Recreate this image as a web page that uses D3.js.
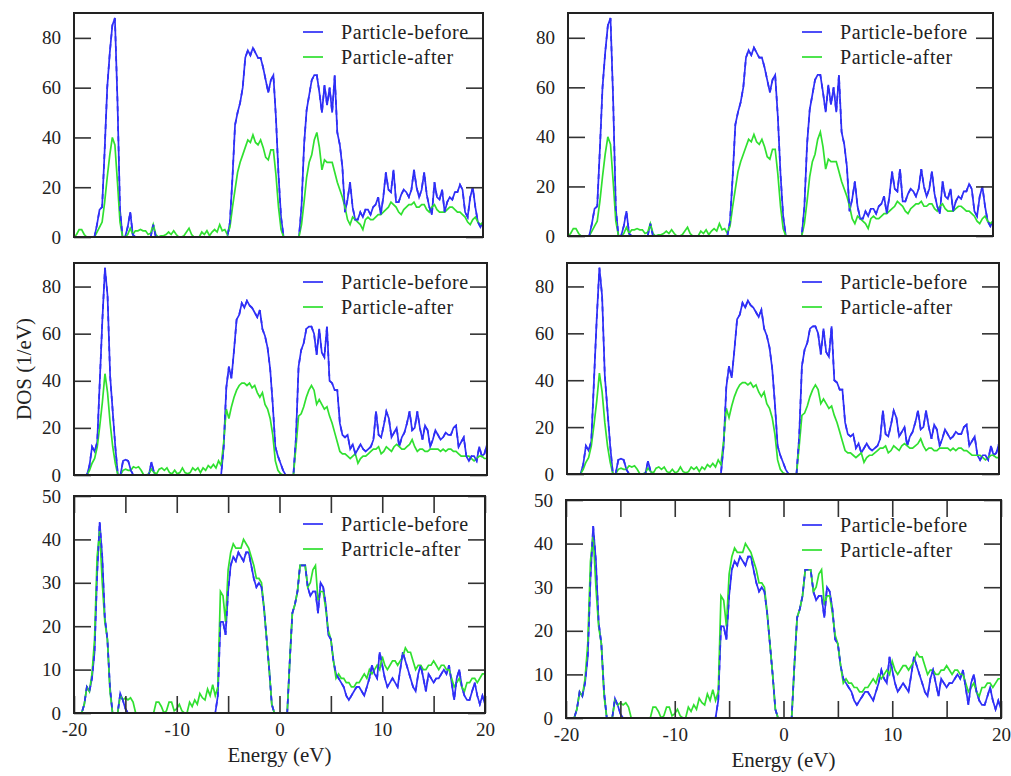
<!DOCTYPE html>
<html>
<head>
<meta charset="utf-8">
<script src="https://cdn.jsdelivr.net/npm/d3@7/dist/d3.min.js"></script>
<style>
  body { margin: 0; background: #fff; }
  svg { display: block; }
  text { font-family: "Liberation Serif", "Times New Roman", serif; fill: #222; }
</style>
</head>
<body>
<svg id="chart" width="1011" height="776"></svg>
<script>
// energy grid (eV), shared by every curve
const energy = [
  -20,-19.75,-19.5,-19.25, -19,-18.75,-18.5,-18.25, -18,-17.75,-17.5,-17.25, -17,-16.75,-16.5,-16.25,
  -16,-15.75,-15.5,-15.25, -15,-14.75,-14.5,-14.25, -14,-13.75,-13.5,-13.25, -13,-12.75,-12.5,-12.25,
  -12,-11.75,-11.5,-11.25, -11,-10.75,-10.5,-10.25, -10,-9.75,-9.5,-9.25, -9,-8.75,-8.5,-8.25,
  -8,-7.75,-7.5,-7.25, -7,-6.75,-6.5,-6.25, -6,-5.75,-5.5,-5.25, -5,-4.75,-4.5,-4.25,
  -4,-3.75,-3.5,-3.25, -3,-2.75,-2.5,-2.25, -2,-1.75,-1.5,-1.25, -1,-0.75,-0.5,-0.25,
  0,0.25,0.5,0.75, 1,1.25,1.5,1.75, 2,2.25,2.5,2.75, 3,3.25,3.5,3.75,
  4,4.25,4.5,4.75, 5,5.25,5.5,5.75, 6,6.25,6.5,6.75, 7,7.25,7.5,7.75,
  8,8.25,8.5,8.75, 9,9.25,9.5,9.75, 10,10.25,10.5,10.75, 11,11.25,11.5,11.75,
  12,12.25,12.5,12.75, 13,13.25,13.5,13.75, 14,14.25,14.5,14.75, 15,15.25,15.5,15.75,
  16,16.25,16.5,16.75, 17,17.25,17.5,17.75, 18,18.25,18.5,18.75, 19,19.25,19.5,19.75,
  20
];

// row 1 (top pair of panels)
const before1 = [
  0,0,0,0, 0,0,0,0, 0,5,11,12, 35,60,74,85,
  88,55,11,0, 0,4,10,1, 0,0,0,0, 0,0,0,5,
  0,0,0,0, 0,0,0,0, 0,0,0,0, 0,0,0,0,
  0,0,0,0, 0,0,0,0, 0,0,0,0, 0,6,24,45,
  50,54,60,72, 75,73,76,74, 72,72,68,63, 58,63,65,48,
  25,8,0,0, 0,0,0,0, 0,12,37,51, 57,63,65,65,
  58,50,61,53, 60,50,65,42, 37,28,10,15, 22,12,7,7,
  10,8,11,11, 9,12,13,16, 9,16,26,19, 18,27,14,14,
  17,19,18,16, 19,27,20,16, 19,26,17,12, 9,22,16,15,
  19,10,14,16, 15,18,18,21, 19,10,8,16, 20,12,6,4,
  6
];
const after1 = [
  0,1,3,3, 1,0,0,0, 0,2,4,6, 14,24,33,40,
  37,22,6,0, 0,1,3.5,1, 2.5,2.5,3,2.5, 2.5,1,1.5,5,
  1,0,0.5,0.5, 1,2,1,2.5, 1,0,0,0.5, 2,3.5,1,0,
  0,0,2,1, 2.5,0.5,2,3, 2,5,2.5,3, 1,4,12,19,
  26,30,33,36, 39,38,41,38, 37,39,36,32, 31,35,35,25,
  12,3,0,0, 0,0,0,0, 0,5,14,24, 30,33,39,42,
  36,27,31,30, 30,30,26,22, 19,16,12,7, 5,8,7,6,
  5,3,7,8, 7,7,8,9, 9,10,11,12, 14,13,12,10,
  9,11,12,13, 13,14,12,12, 13,13,11,10, 12,13,11,10,
  10,10,11,12, 12,11,10,10, 9,8,6,5, 7,8,6,5,
  6
];

// row 2 (middle pair)
const before2 = [
  0,0,0,0, 0,0,4,12, 10,14,40,66, 88,76,42,27,
  12,0,0,6, 6.5,6,2,0, 0,0,0,0, 0,0,5.5,1,
  0,0,0,0, 0,0,0,0, 0,0,0,0, 0,0,0,0,
  0,0,0,0, 0,0,0,0, 0,0,12,37, 46,41,53,66,
  68,73,71,74, 72,71,69,67, 70,62,59,54, 45,30,12,8,
  5,2,0,0, 0,0,16,46, 53,56,62,63, 63,60,51,62,
  52,50,63,40, 39,36,36,22, 17,16,17,11, 13,9,11,13,
  11,10,11,12, 15,27,17,16, 21,27,24,16, 18,20,12,16,
  18,22,27,19, 20,27,20,15, 21,19,12,15, 19,17,15,16,
  18,17,17,20, 21,12,14,16, 8,6,8,8, 6,12,8,9,
  13
];
const after2 = [
  0,0,0,0, 0,0,2,5, 7,12,21,31, 43,35,22,12,
  5,0,0,2, 2.5,2,2,3.5, 3,3.5,2,0, 0,0.5,2.5,1,
  0.5,2.5,3,2, 3,1,0.5,2, 0.5,1,3,1, 0.5,1,3,2,
  3,1,3,2, 4,3,4.5,3, 6,4,14,28, 24,29,33,36,
  38,39,39,38, 39,37,38,35, 33,35,30,28, 24,17,6,2,
  0.5,0,0,0, 0,0,12,25, 26,29,33,36, 38,36,30,32,
  30,28,29,25, 22,18,14,10, 9,9,8,7, 8,9,5,7,
  8,8,9,10, 11,11,12,9, 10,12,11,10, 12,13,12,11,
  11,12,13,15, 12,10,11,11, 10,10,11,11, 11,11,10,11,
  10,11,11,10, 10,9,8,8, 8,8,7,6, 7,8,8,7,
  7
];

// row 3 (bottom pair)
const before3 = [
  0,0,0,0, 2,6,5,8, 14,32,44,36, 22,17,6,0,
  0,0,4.5,3, 1,0,0,0, 0,0,0,0, 0,0,0,0,
  0,0,0,0, 0,0,0,0, 0,0,0,0, 0,0,0,0,
  0,0,0,0, 0,0,0,0, 4,21,21,18, 28,34,36,35,
  37,36,35,37, 37,34,31,29, 30,29,24,17, 10,2,0,0,
  0,0,0,0, 12,23,25,28, 34,34,34,29, 27,28,28,23,
  30,29,25,18, 17,12,9,8, 7,6,4,3, 4,5,6,6,
  5,4,6,8, 11,9,8,14, 11,8,6,7, 8,7,6,10,
  14,12,10,8, 6,5,9,11, 8,5,9,8, 7,8,8,9,
  10,9,11,7, 3,8,10,6, 4,3,3,5, 7,4,2,4,
  2
];
const after3 = [
  0,0,0,0, 2,6,5,9, 17,36,42,30, 21,17,5,0,
  0,0,4,3, 3.5,3,3.5,2.5, 0,0,0,0, 0,0,0,0,
  2.5,2.5,1.5,0, 0.5,2.5,2.5,0.5, 1,2,0.5,0, 0,2.5,1.5,3,
  2,4.5,3.5,3, 5.5,4,6.5,4, 6,28,27,21, 33,37,39,38,
  38,38,40,39, 38,36,34,31, 31,30,24,17, 10,2,0,0,
  0,0,0,0, 12,23,25,28, 34,34,34,29, 30,33,34,26,
  28,28,24,19, 17,12,8,9, 8,8,7,7, 6,6,7,7,
  8,9,8,10, 9,10,11,10, 13,11,10,11, 12,12,11,12,
  13,15,14,14, 12,10,11,11, 10,10,11,11, 12,11,10,11,
  11,10,10,8, 6,7,8,6, 5,7,7,8, 8,7,8,9,
  9
];

const yTicks90 = [0, 20, 40, 60, 80];
const yTicks50 = [0, 10, 20, 30, 40, 50];
const xTicks = [-20, -15, -10, -5, 0, 5, 10, 15, 20];
const xLabelled = [-20, -10, 0, 10, 20];
const legendNames = ["Particle-before", "Particle-after"];
const legendNamesBL = ["Particle-before", "Partricle-after"];

const blue = "#2f2ff6", green = "#30e030";

const panels = [
  { x0: 74,  x1: 483,  y0: 13,  y1: 237, yMax: 90, yt: yTicks90, b: before1, a: after1, names: legendNames, lx: 303, ly: 19 },
  { x0: 568, x1: 993,  y0: 13,  y1: 236, yMax: 90, yt: yTicks90, b: before1, a: after1, names: legendNames, lx: 802, ly: 19 },
  { x0: 74,  x1: 487,  y0: 263, y1: 475, yMax: 90, yt: yTicks90, b: before2, a: after2, names: legendNames, lx: 303, ly: 19 },
  { x0: 567, x1: 999,  y0: 263, y1: 474, yMax: 90, yt: yTicks90, b: before2, a: after2, names: legendNames, lx: 802, ly: 19 },
  { x0: 74,  x1: 485,  y0: 496, y1: 713, yMax: 50, yt: yTicks50, b: before3, a: after3, names: legendNamesBL, lx: 303, ly: 28, xaxis: true },
  { x0: 566, x1: 1001, y0: 500, y1: 718, yMax: 50, yt: yTicks50, b: before3, a: after3, names: legendNames, lx: 802, ly: 25, xaxis: true }
];

const svg = d3.select("#chart");
const tickLen = 17;

panels.forEach((p, i) => {
  const w = p.x1 - p.x0, h = p.y1 - p.y0;
  const x = d3.scaleLinear().domain([-20, 20]).range([0, w]);
  const y = d3.scaleLinear().domain([0, p.yMax]).range([h, 0]);
  const g = svg.append("g").attr("transform", "translate(" + p.x0 + "," + p.y0 + ")");

  g.append("clipPath").attr("id", "clip" + i)
    .append("rect").attr("width", w).attr("height", h);

  const line = d3.line().x((d, k) => x(energy[k])).y(d => y(d));
  const plot = g.append("g").attr("clip-path", "url(#clip" + i + ")");
  plot.append("path").datum(p.b).attr("d", line)
    .attr("fill", "none").attr("stroke", blue).attr("stroke-width", 1.7);
  plot.append("path").datum(p.a).attr("d", line)
    .attr("fill", "none").attr("stroke", green).attr("stroke-width", 1.7);
  // where the two curves coincide they look dashed blue/green
  plot.append("path").datum(p.b).attr("d", line)
    .attr("fill", "none").attr("stroke", blue).attr("stroke-width", 1.7)
    .attr("stroke-dasharray", "5,5");

  // y axes, ticks inward
  const yl = g.append("g").call(d3.axisLeft(y).tickValues(p.yt).tickSize(-tickLen).tickPadding(13).tickFormat(d => String(d)));
  const yr = g.append("g").attr("transform", "translate(" + w + ",0)")
    .call(d3.axisRight(y).tickValues(p.yt).tickSize(-tickLen).tickFormat(""));
  [yl, yr].forEach(a => {
    a.select(".domain").remove();
    a.selectAll("line").attr("stroke", "#333").attr("stroke-width", 1.6);
  });
  yl.selectAll("text").style("font-size", "19px").attr("fill", "#222");

  if (p.xaxis) {
    const xb = g.append("g").attr("transform", "translate(0," + h + ")")
      .call(d3.axisBottom(x).tickValues(xTicks).tickSize(-tickLen).tickPadding(10)
        .tickFormat(d => xLabelled.includes(d) ? String(d) : ""));
    const xt = g.append("g")
      .call(d3.axisTop(x).tickValues(xTicks).tickSize(-tickLen).tickFormat(""));
    [xb, xt].forEach(a => {
      a.select(".domain").remove();
      a.selectAll("line").attr("stroke", "#333").attr("stroke-width", 1.6);
    });
    xb.selectAll("text").style("font-size", "19px").attr("fill", "#222");
    g.append("text").attr("x", w / 2).attr("y", h + 49)
      .attr("text-anchor", "middle").style("font-size", "21px").text("Energy (eV)");
  }

  g.append("rect").attr("width", w).attr("height", h)
    .attr("fill", "none").attr("stroke", "#222").attr("stroke-width", 2);

  // legend
  const lg = svg.append("g").attr("transform", "translate(" + p.lx + "," + (p.y0 + p.ly) + ")");
  [blue, green].forEach((c, k) => {
    lg.append("line").attr("x1", 0).attr("x2", 20).attr("y1", k * 25).attr("y2", k * 25)
      .attr("stroke", c).attr("stroke-width", 1.7);
    lg.append("text").attr("x", 38).attr("y", k * 25).attr("dy", "0.35em")
      .style("font-size", "20px").style("letter-spacing", "0.6px").text(p.names[k]);
  });
});

svg.append("text")
  .attr("transform", "translate(24,369) rotate(-90)")
  .attr("text-anchor", "middle").attr("dy", "0.35em")
  .style("font-size", "21px").text("DOS (1/eV)");
</script>
</body>
</html>
